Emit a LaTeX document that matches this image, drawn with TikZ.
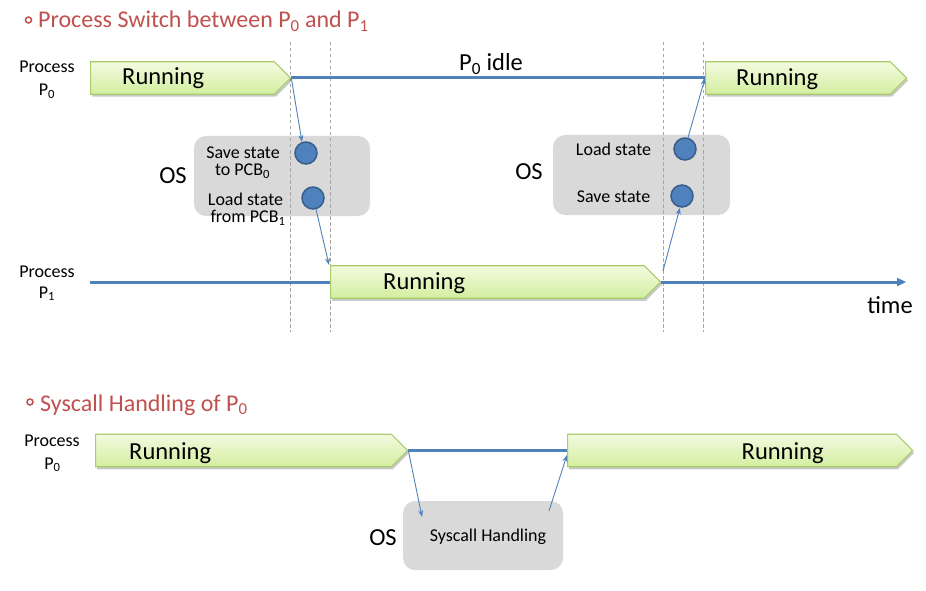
\documentclass[tikz,border=0pt]{standalone}
\usepackage{fontspec}
\setmainfont{Carlito}
\usetikzlibrary{shapes.symbols,shadows,arrows.meta}
\definecolor{lineblue}{HTML}{4F81BD}
\definecolor{circborder}{HTML}{385D8A}
\definecolor{osgray}{HTML}{D9D9D9}
\definecolor{titlered}{HTML}{C0504D}
\definecolor{runborder}{HTML}{A9CB6B}
\definecolor{runtop}{HTML}{F3FBE0}
\definecolor{runbot}{HTML}{D3EEA0}
\definecolor{guidegray}{HTML}{A6A6A6}
\newcommand{\lowsub}[1]{\raisebox{-0.32em}{\fontsize{0.62em}{0.7em}\selectfont #1}}
\begin{document}
\begin{tikzpicture}[x=1pt,y=-1pt,
  runbox/.style={shape=signal, signal to=east, signal from=nowhere, signal pointer angle=90,
    minimum height=32.5pt, inner sep=0pt, draw=runborder, line width=1.1pt,
    top color=runtop, bottom color=runbot,
    drop shadow={shadow xshift=1.5pt, shadow yshift=-2.5pt, opacity=0.3, fill=black!70}},
  osbox/.style={rectangle, rounded corners=12pt, fill=osgray, inner sep=0pt},
  dot/.style={circle, minimum size=22pt, inner sep=0pt, fill=lineblue, draw=circborder, line width=1.5pt},
  timeline/.style={draw=lineblue, line width=3pt},
  conn/.style={draw=lineblue, line width=0.9pt, -{Stealth[length=7pt,width=5pt]}},
  guide/.style={draw=guidegray, line width=0.8pt, dash pattern=on 3.5pt off 2.5pt},
  titletext/.style={font={\fontsize{24}{28}\selectfont}, text=titlered, inner sep=0pt, anchor=base west},
  bullet/.style={circle, draw=titlered, line width=1.5pt, minimum size=6pt, inner sep=0pt},
  bigtext/.style={font={\fontsize{24.5}{28}\selectfont}, inner sep=0pt},
  smalltext/.style={font={\fontsize{18}{20}\selectfont}, inner sep=0pt, anchor=base},
]
\useasboundingbox (0,0) rectangle (926,591);

% ---------------- titles
\node[bullet] (b1) at (28.5,20) {};
\node[titletext] (title1) at (38,28) {Process Switch between P\textsubscript{0} and P\textsubscript{1}};
\node[bullet] (b2) at (30,402) {};
\node[titletext] (title2) at (40,411) {Syscall Handling of P\textsubscript{0}};

% ---------------- OS boxes
\node[osbox, minimum width=176pt, minimum height=80pt] (os1) at (282,176) {};
\node[osbox, minimum width=177pt, minimum height=80pt] (os2) at (641.5,175) {};
\node[osbox, minimum width=160pt, minimum height=69pt] (os3) at (483,535.5) {};

% ---------------- guide lines
\draw[guide] (290,42) -- (290,332);
\draw[guide] (330,42) -- (330,332);
\draw[guide] (663,42) -- (663,332);
\draw[guide] (703,42) -- (703,332);

% ---------------- running boxes
\node[runbox, minimum width=200pt, anchor=west] (r1) at (90,78) {};
\node[runbox, minimum width=201pt, anchor=west] (r4) at (705,78) {};
\node[runbox, minimum width=330pt, anchor=west] (r3) at (330,282) {};
\node[runbox, minimum width=312pt, anchor=west] (r5) at (95,450.5) {};
\node[runbox, minimum width=345pt, anchor=west] (r6) at (567,450.5) {};

% ---------------- coordinates
\coordinate (p1start) at (90,282);
\coordinate (timeend) at (906,282);
\coordinate (r3corner) at (329,265);
\coordinate (r3out) at (663,271);
\coordinate (os3in) at (422,517);
\coordinate (os3out) at (549,511);
\coordinate (r6in) at (567,455);

% ---------------- timelines
\draw[timeline] (r1.east) -- (r4.west);
\draw[timeline] (p1start) -- (r3.west);
\draw[timeline, -{Triangle[length=9pt,width=8pt]}] (r3.east) -- (timeend);
\draw[timeline, line width=3.4pt] (r5.east) -- (r6.west);

% ---------------- circles
\node[dot] (c1) at (306,153) {};
\node[dot] (c2) at (313,198) {};
\node[dot] (c3) at (685,149) {};
\node[dot] (c4) at (682,196) {};

% ---------------- connectors
\draw[conn] (r1.east) -- (c1.110);
\draw[conn] (c2.-75) -- (r3corner);
\draw[conn] (r3out) -- (c4.-100);
\draw[conn] (c3.75) -- (r4.west);
\draw[conn] (r5.east) -- (os3in);
\draw[conn] (os3out) -- (r6in);

% ---------------- texts
\node[bigtext, anchor=base west] (t1) at (122,85) {Running};
\node[bigtext, anchor=base west] (t4) at (736,86) {Running};
\node[bigtext, anchor=base west] (t3) at (383,289.5) {Running};
\node[bigtext, anchor=base west] (t5) at (129,459) {Running};
\node[bigtext, anchor=base west] (t6) at (741.5,459) {Running};
\node[bigtext, anchor=base west] (idle) at (459,71) {P\textsubscript{0} idle};
\node[bigtext, anchor=base] (time) at (890,313.5) {time};

\node[bigtext, anchor=base] (os1l) at (173,183) {OS};
\node[bigtext, anchor=base] (os2l) at (529,179) {OS};
\node[bigtext, anchor=base] (os3l) at (383,545.5) {OS};

\node[smalltext] (pa1) at (47,73) {Process};
\node[smalltext] (pa2) at (47,96) {P\textsubscript{0}};
\node[smalltext] (pb1) at (47,277) {Process};
\node[smalltext] (pb2) at (47,298) {P\textsubscript{1}};
\node[smalltext] (pc1) at (52,446) {Process};
\node[smalltext] (pc2) at (52.5,469) {P\textsubscript{0}};

\node[smalltext] (s1a) at (243,158.5) {Save state};
\node[smalltext] (s1b) at (242.5,175.5) {to PCB\textsubscript{0}};
\node[smalltext] (l1a) at (245.5,205) {Load state};
\node[smalltext] (l1b) at (248,222.5) {from PCB\textsubscript{1}};
\node[smalltext] (l2) at (613.5,155) {Load state};
\node[smalltext] (s2) at (613.5,202.5) {Save state};
\node[smalltext] (sys) at (488,541.5) {Syscall Handling};
\end{tikzpicture}
\end{document}
